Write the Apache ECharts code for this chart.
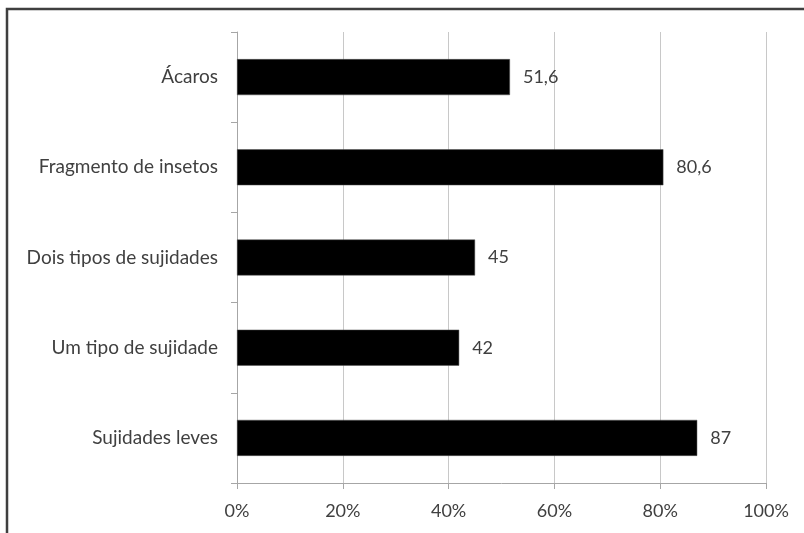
<!DOCTYPE html>
<html>
<head>
<meta charset="utf-8">
<script src="https://cdn.jsdelivr.net/npm/echarts@6/dist/echarts.min.js"></script>
<style>
  html, body { margin: 0; padding: 0; background: #fff; }
  #main { width: 804px; height: 533px; }
</style>
</head>
<body>
<div id="main"></div>
<script>
// categorias (de cima para baixo)
var categorias = ['Ácaros', 'Fragmento de insetos', 'Dois tipos de sujidades', 'Um tipo de sujidade', 'Sujidades leves'];
var valores = [51.6, 80.6, 45, 42, 87];
var ticksX = [0, 20, 40, 60, 80, 100];

var chart = echarts.init(document.getElementById('main'));

var fonte = 'Lato, "Open Sans", sans-serif';

var option = {
  animation: false,
  backgroundColor: '#fff',
  textStyle: { fontFamily: fonte },
  graphic: [{
    type: 'rect',
    shape: { x: 7, y: 9, width: 900, height: 700 },
    style: { fill: 'none', stroke: '#3f3f3f', lineWidth: 2.5 },
    silent: true
  }],
  grid: { left: 237, right: 38, top: 32, bottom: 50, containLabel: false },
  xAxis: {
    type: 'value',
    min: ticksX[0],
    max: ticksX[ticksX.length - 1],
    interval: 20,
    axisLine: { show: true, lineStyle: { color: '#a6a6a6', width: 1 } },
    axisTick: { show: true, length: 6, lineStyle: { color: '#a6a6a6' } },
    splitLine: { show: true, lineStyle: { color: '#c8c8c8', width: 1 } },
    axisLabel: {
      formatter: '{value}%',
      color: '#404040',
      fontSize: 18,
      fontFamily: fonte,
      margin: 19
    }
  },
  yAxis: {
    type: 'category',
    inverse: true,
    data: categorias,
    axisLine: { show: true, lineStyle: { color: '#a6a6a6', width: 1 } },
    axisTick: { show: true, length: 6, alignWithLabel: false, lineStyle: { color: '#a6a6a6' } },
    splitLine: { show: false },
    axisLabel: {
      color: '#404040',
      fontSize: 19,
      fontFamily: fonte,
      margin: 19
    }
  },
  series: [{
    type: 'bar',
    data: valores,
    barWidth: 36,
    itemStyle: { color: '#000', borderColor: '#555', borderWidth: 0.5 },
    label: {
      show: true,
      position: 'right',
      distance: 13,
      color: '#404040',
      fontSize: 18,
      fontFamily: fonte,
      formatter: function (p) { return String(p.value).replace('.', ','); }
    }
  }]
};

chart.setOption(option);
</script>
</body>
</html>
